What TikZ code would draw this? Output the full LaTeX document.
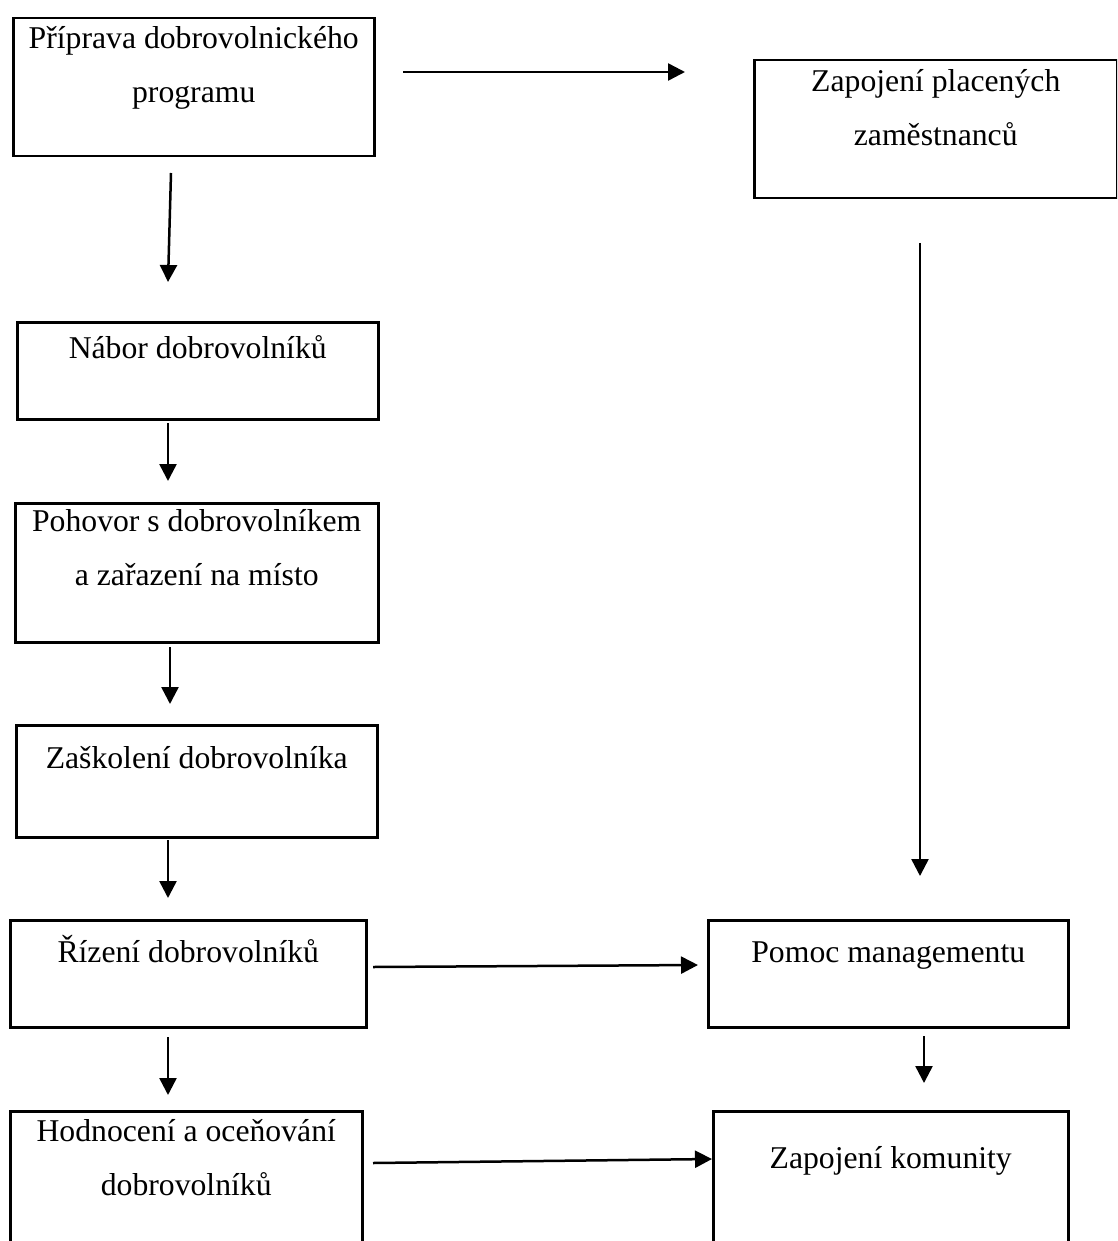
\documentclass[tikz,border=0pt]{standalone}
\usepackage{fontspec}
\setmainfont{Liberation Serif}
\usetikzlibrary{arrows.meta}
\newcommand\boxtxt[4]{\parbox[c][#2][t]{#1}{\centering\rule{0pt}{#3}#4}}
\tikzset{
  box/.style={draw=black, line width=2.5pt, inner sep=0pt, anchor=north west,
    font=\fontsize{31.7}{54}\selectfont},
  arr/.style={line width=2.5pt, -{Triangle[length=17pt,width=17pt]}}
}
\begin{document}
\begin{tikzpicture}[x=1pt,y=-1pt]
\useasboundingbox (0,0) rectangle (1117,1241);
\fill[white] (0,0) rectangle (1117,1241);
\clip (0,0) rectangle (1117,1241);
% boxes
\node[box] (prip) at (12,17) {\boxtxt{361pt}{138pt}{30pt}{Příprava dobrovolnického\\programu}};
\node[box] (plac) at (753,59) {\boxtxt{363pt}{138pt}{31pt}{Zapojení placených\\zaměstnanců}};
\node[box] (nabor) at (16,321) {\boxtxt{361pt}{97pt}{36pt}{Nábor dobrovolníků}};
\node[box] (poh) at (14,502) {\boxtxt{363pt}{139pt}{28pt}{Pohovor s dobrovolníkem\\a zařazení na místo}};
\node[box] (skol) at (15,724) {\boxtxt{361pt}{112pt}{43pt}{Zaškolení dobrovolníka}};
\node[box] (rizeni) at (9,919) {\boxtxt{356pt}{107pt}{42pt}{Řízení dobrovolníků}};
\node[box] (pomoc) at (707,919) {\boxtxt{360pt}{107pt}{42pt}{Pomoc managementu}};
\node[box] (hodn) at (9,1110) {\boxtxt{352pt}{150pt}{30pt}{Hodnocení a oceňování\\dobrovolníků}};
\node[box] (komun) at (712,1110) {\boxtxt{355pt}{150pt}{57pt}{Zapojení komunity}};
% connector end points
\coordinate (a1s) at (403,72);   \coordinate (a1e) at (685,72);
\coordinate (a2s) at (171,173);  \coordinate (a2e) at (168,282);
\coordinate (a3s) at (168,423);  \coordinate (a3e) at (168,481);
\coordinate (a4s) at (170,647);  \coordinate (a4e) at (170,704);
\coordinate (a5s) at (168,840);  \coordinate (a5e) at (168,898);
\coordinate (a6s) at (168,1037); \coordinate (a6e) at (168,1095);
\coordinate (a7s) at (920,243);  \coordinate (a7e) at (920,876);
\coordinate (a8s) at (924,1036); \coordinate (a8e) at (924,1083);
\coordinate (a9s) at (373,967);  \coordinate (a9e) at (698,965);
\coordinate (a10s) at (373,1163); \coordinate (a10e) at (712,1159);
% connectors
\draw[arr] (a1s) -- (a1e);
\draw[arr] (a2s) -- (a2e);
\draw[arr] (a3s) -- (a3e);
\draw[arr] (a4s) -- (a4e);
\draw[arr] (a5s) -- (a5e);
\draw[arr] (a6s) -- (a6e);
\draw[arr] (a7s) -- (a7e);
\draw[arr] (a8s) -- (a8e);
\draw[arr] (a9s) -- (a9e);
\draw[arr] (a10s) -- (a10e);
\end{tikzpicture}
\end{document}
